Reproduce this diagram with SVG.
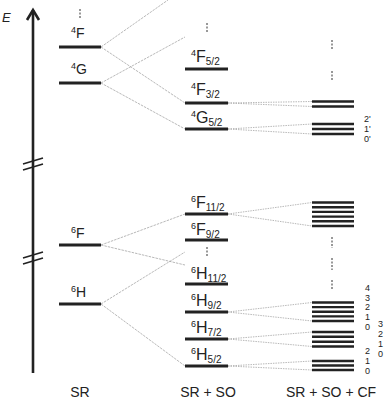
<svg xmlns="http://www.w3.org/2000/svg" width="385" height="400" viewBox="0 0 385 400">
<style>
text{font-family:"Liberation Sans",Arial,sans-serif;fill:#222}
.lv{stroke:#222;stroke-width:3}
.cf{stroke:#222;stroke-width:2.4}
.c1{stroke:#9a9a9a;stroke-width:0.7;stroke-dasharray:2.5,1;fill:none}
.c2{stroke:#9a9a9a;stroke-width:0.7;stroke-dasharray:1.5,1;fill:none}
.vd{stroke:#333;stroke-width:1;stroke-dasharray:2,1.5}
.sr{font-size:14px}
.so{font-size:16px}
.sm{font-size:9px}
.ax{font-size:14px}
</style>
<rect width="385" height="400" fill="#fff"/>
<g id="axis" stroke="#222" fill="none">
<line x1="33" y1="10" x2="33" y2="373" stroke-width="2.6"/>
<polyline points="27,20 33,10 39,20" stroke-width="2.6"/>
<path d="M23,164 L43,158 M23,170 L43,164" stroke-width="1.6"/>
<path d="M23,258 L43,252 M23,264 L43,258" stroke-width="1.6"/>
</g>
<text x="2" y="22" font-size="13" font-style="italic">E</text>
<g id="connectors">
<line class="c1" x1="101" y1="47" x2="168" y2="0"/>
<line class="c1" x1="101" y1="47" x2="185" y2="103"/>
<line class="c1" x1="101" y1="83" x2="185" y2="37"/>
<line class="c1" x1="101" y1="83" x2="185" y2="129"/>
<line class="c1" x1="101" y1="245" x2="185" y2="214"/>
<line class="c1" x1="101" y1="245" x2="185" y2="265"/>
<line class="c1" x1="101" y1="304" x2="185" y2="252"/>
<line class="c1" x1="101" y1="304" x2="185" y2="366"/>
<path class="c2" d="M228,103 L312,101.5 M228,103 L312,106.5"/>
<path class="c2" d="M228,129 L312,124 M228,129 L312,134"/>
<path class="c2" d="M228,214 L312,202.5 M228,214 L312,226"/>
<path class="c2" d="M228,312 L312,302.5 M228,312 L312,321"/>
<path class="c2" d="M228,339 L312,332 M228,339 L312,346.5"/>
<path class="c2" d="M228,366 L312,361 M228,366 L312,370"/>
</g>
<g id="markers">
<line class="vd" x1="80" y1="9" x2="80" y2="18"/>
<line class="vd" x1="207" y1="23" x2="207" y2="33"/>
<line class="vd" x1="332" y1="40" x2="332" y2="50"/>
<line class="vd" x1="332" y1="71" x2="332" y2="81"/>
<line class="vd" x1="207" y1="247" x2="207" y2="257"/>
<line class="vd" x1="332" y1="237" x2="332" y2="248"/>
<line class="vd" x1="332" y1="258" x2="332" y2="270"/>
<line class="vd" x1="332" y1="280" x2="332" y2="290"/>
</g>
<g id="SR-4F"><line class="lv" x1="59" y1="47" x2="101" y2="47"/><text class="sr" x="71" y="38"><tspan font-size="9" dy="-5">4</tspan><tspan dy="5">F</tspan></text></g>
<g id="SR-4G"><line class="lv" x1="59" y1="83" x2="101" y2="83"/><text class="sr" x="71" y="74"><tspan font-size="9" dy="-5">4</tspan><tspan dy="5">G</tspan></text></g>
<g id="SR-6F"><line class="lv" x1="59" y1="245" x2="101" y2="245"/><text class="sr" x="71" y="238"><tspan font-size="9" dy="-5">6</tspan><tspan dy="5">F</tspan></text></g>
<g id="SR-6H"><line class="lv" x1="59" y1="304" x2="101" y2="304"/><text class="sr" x="71" y="297"><tspan font-size="9" dy="-5">6</tspan><tspan dy="5">H</tspan></text></g>
<g id="SO-4F52"><line class="lv" x1="185" y1="69" x2="228" y2="69"/><text class="so" x="191" y="62"><tspan font-size="9" dy="-6">4</tspan><tspan dy="6">F</tspan><tspan font-size="10" dy="3">5/2</tspan></text></g>
<g id="SO-4F32"><line class="lv" x1="185" y1="103" x2="228" y2="103"/><text class="so" x="191" y="95"><tspan font-size="9" dy="-6">4</tspan><tspan dy="6">F</tspan><tspan font-size="10" dy="3">3/2</tspan></text></g>
<g id="SO-4G52"><line class="lv" x1="185" y1="129" x2="228" y2="129"/><text class="so" x="191" y="123"><tspan font-size="9" dy="-6">4</tspan><tspan dy="6">G</tspan><tspan font-size="10" dy="3">5/2</tspan></text></g>
<g id="SO-6F112"><line class="lv" x1="185" y1="214" x2="228" y2="214"/><text class="so" x="191" y="208"><tspan font-size="9" dy="-6">6</tspan><tspan dy="6">F</tspan><tspan font-size="10" dy="3">11/2</tspan></text></g>
<g id="SO-6F92"><line class="lv" x1="185" y1="240" x2="228" y2="240"/><text class="so" x="191" y="235"><tspan font-size="9" dy="-6">6</tspan><tspan dy="6">F</tspan><tspan font-size="10" dy="3">9/2</tspan></text></g>
<g id="SO-6H112"><line class="lv" x1="185" y1="284" x2="228" y2="284"/><text class="so" x="191" y="279"><tspan font-size="9" dy="-6">6</tspan><tspan dy="6">H</tspan><tspan font-size="10" dy="3">11/2</tspan></text></g>
<g id="SO-6H92"><line class="lv" x1="185" y1="312" x2="228" y2="312"/><text class="so" x="191" y="306"><tspan font-size="9" dy="-6">6</tspan><tspan dy="6">H</tspan><tspan font-size="10" dy="3">9/2</tspan></text></g>
<g id="SO-6H72"><line class="lv" x1="185" y1="339" x2="228" y2="339"/><text class="so" x="191" y="333"><tspan font-size="9" dy="-6">6</tspan><tspan dy="6">H</tspan><tspan font-size="10" dy="3">7/2</tspan></text></g>
<g id="SO-6H52"><line class="lv" x1="185" y1="366" x2="228" y2="366"/><text class="so" x="191" y="360"><tspan font-size="9" dy="-6">6</tspan><tspan dy="6">H</tspan><tspan font-size="10" dy="3">5/2</tspan></text></g>
<g id="CF-4F32"><path class="cf" d="M312,101.5H354M312,106.5H354"/></g>
<g id="CF-4G52"><path class="cf" d="M312,124H354M312,129H354M312,134H354"/>
<text class="sm" x="364" y="122">2'</text><text class="sm" x="364" y="132">1'</text><text class="sm" x="364" y="142">0'</text></g>
<g id="CF-6F112"><path class="cf" d="M312,202.5H354M312,207.2H354M312,211.9H354M312,216.6H354M312,221.3H354M312,226H354"/></g>
<g id="CF-6H92"><path class="cf" d="M312,302.5H354M312,307.1H354M312,311.7H354M312,316.4H354M312,321H354"/>
<text class="sm" x="365" y="291">4</text><text class="sm" x="365" y="300.5">3</text><text class="sm" x="365" y="310">2</text><text class="sm" x="365" y="319.5">1</text><text class="sm" x="365" y="330">0</text></g>
<g id="CF-6H72"><path class="cf" d="M312,332H354M312,336.8H354M312,341.7H354M312,346.5H354"/>
<text class="sm" x="378" y="327">3</text><text class="sm" x="378" y="337">2</text><text class="sm" x="378" y="347">1</text><text class="sm" x="378" y="356.5">0</text></g>
<g id="CF-6H52"><path class="cf" d="M312,361H354M312,365.5H354M312,370H354"/>
<text class="sm" x="365" y="354">2</text><text class="sm" x="365" y="364">1</text><text class="sm" x="365" y="374">0</text></g>
<g id="labels">
<text class="ax" x="80" y="397" text-anchor="middle">SR</text>
<text class="ax" x="208" y="397" text-anchor="middle">SR + SO</text>
<text class="ax" x="331" y="397" text-anchor="middle">SR + SO + CF</text>
</g>
</svg>
